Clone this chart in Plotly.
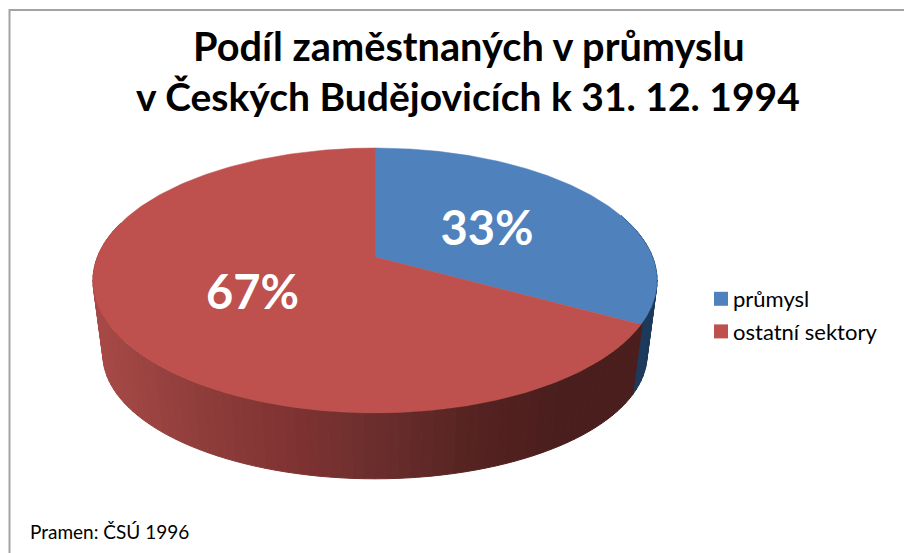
import numpy as np
import plotly.graph_objects as go

# ---- data ----
categories = ["průmysl", "ostatní sektory"]
shares = [33, 67]
title_lines = ["Podíl zaměstnaných v průmyslu", "v Českých Budějovicích k 31. 12. 1994"]
source_note = "Pramen: ČSÚ 1996"

# ---- style ----
TOP_COLORS = ["#4F81BD", "#BE504D"]
WALL_BLUE = "#1D3A5C"
FONT = "Lato"
WALL_STOPS_X = [93, 200, 300, 375, 480, 560, 660]
WALL_STOPS_RGB = [(168, 74, 71), (143, 61, 59), (125, 50, 49), (107, 46, 45),
                  (84, 34, 32), (74, 30, 29), (74, 30, 29)]

# Projective view of the pie (image pixels as axis units)
CX, PERSP = 375.0, -0.177
TOP = dict(cy=257.0, a=128.3, d=277.6)
BOTTOM = dict(cy=333.0, a=120.0, d=267.7)
LABEL_DY = 7


def project(theta_deg, disc, s=1.0):
    t = np.radians(theta_deg)
    u, v = s * np.sin(t), -s * np.cos(t)
    den = 1 + PERSP * v
    return CX + disc["d"] * u / den, disc["cy"] + disc["a"] * v / den


def wall_color(x):
    c = [np.interp(x, WALL_STOPS_X, [r[i] for r in WALL_STOPS_RGB]) for i in range(3)]
    return "rgb(%d,%d,%d)" % tuple(int(round(k)) for k in c)


edges = np.cumsum([0] + shares) / sum(shares) * 360.0
fig = go.Figure()

# side wall
wall_from, wall_to = 70.0, 285.0
thetas = np.arange(wall_from, wall_to, 2.0)
for t0 in thetas:
    t1 = t0 + 2.0
    xa, ya = project(np.array([t0, t1]), TOP)
    xb, yb = project(np.array([t1, t0]), BOTTOM)
    mid = (t0 + t1) / 2
    col = WALL_BLUE if mid < edges[1] else wall_color((xa.mean() + xb.mean()) / 2)
    fig.add_trace(go.Scatter(x=list(xa) + list(xb) + [xa[0]], y=list(ya) + list(yb) + [ya[0]],
                             mode="lines", fill="toself", fillcolor=col,
                             line=dict(color=col, width=1), showlegend=False, hoverinfo="skip"))

# top surface slices
for i, name in enumerate(categories):
    th = np.linspace(edges[i], edges[i + 1], 241)
    x, y = project(th, TOP)
    fig.add_trace(go.Scatter(x=[CX] + list(x) + [CX], y=[TOP["cy"]] + list(y) + [TOP["cy"]],
                             mode="lines", fill="toself", fillcolor=TOP_COLORS[i],
                             line=dict(color=TOP_COLORS[i], width=0.5),
                             showlegend=False, name=name, hoverinfo="skip"))

# percentage labels, placed halfway along each slice's bisector
mids = (edges[:-1] + edges[1:]) / 2
lx, ly = project(mids, TOP, s=0.49)
fig.add_trace(go.Scatter(x=lx, y=ly + LABEL_DY, mode="text", text=[f"{s}%" for s in shares],
                         textfont=dict(family=FONT, size=47, color="white", weight="bold"),
                         textposition="middle center", showlegend=False, hoverinfo="skip"))

# legend entries
for i, name in enumerate(categories):
    fig.add_trace(go.Scatter(x=[None], y=[None], mode="markers", name=name, legendgroup=name,
                             marker=dict(symbol="square", size=14, color=TOP_COLORS[i])))

BORDER = dict(color="#A3A3A3", width=2)
fig.update_layout(
    width=904, height=553, margin=dict(l=0, r=0, t=0, b=0),
    paper_bgcolor="white", plot_bgcolor="white", hovermode=False,
    xaxis=dict(range=[0, 904], visible=False, fixedrange=True),
    yaxis=dict(range=[553, 0], visible=False, fixedrange=True),
    legend=dict(x=693 / 904, y=1 - 278 / 553, xanchor="left", yanchor="top", bgcolor="rgba(0,0,0,0)",
                traceorder="grouped", tracegroupgap=1,
                font=dict(family=FONT, size=22, color="black"), itemclick=False, itemdoubleclick=False),
    shapes=[dict(type="line", xref="x", yref="y", x0=9, y0=10, x1=904, y1=10, line=BORDER, layer="below"),
            dict(type="line", xref="x", yref="y", x0=9.5, y0=9, x1=9.5, y1=553, line=BORDER, layer="below")],
    annotations=[
        dict(x=468.5, y=45, xref="x", yref="y", text=title_lines[0], showarrow=False,
             font=dict(family=FONT, size=39.7, color="black", weight="bold")),
        dict(x=467.5, y=96, xref="x", yref="y", text=title_lines[1], showarrow=False,
             font=dict(family=FONT, size=39, color="black", weight="bold")),
        dict(x=28, y=531, xref="x", yref="y", text=source_note, showarrow=False, xanchor="left",
             font=dict(family=FONT, size=19, color="black")),
    ],
)

POST = """
document.body.style.margin='0';
document.documentElement.style.overflow='hidden';
document.querySelectorAll('.legend .legendpoints').forEach(function(g){g.setAttribute('transform','translate(8,0)');});
"""
fig.write_html("out.html", config=dict(displayModeBar=False), post_script=POST)
